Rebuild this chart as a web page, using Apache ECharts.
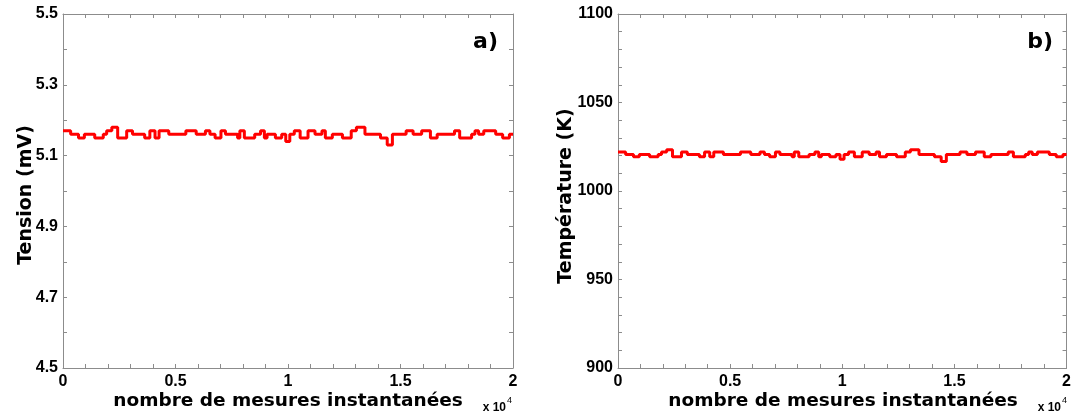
<!DOCTYPE html>
<html>
<head>
<meta charset="utf-8">
<script src="https://cdn.jsdelivr.net/npm/echarts@6/dist/echarts.min.js"></script>
<style>
html,body{margin:0;padding:0;background:#fff;}
#chart{width:1074px;height:416px;}
</style>
</head>
<body>
<div id="chart"></div>
<script>
// Step change positions (sample index) shared by both signals
const stepX = [0, 340, 690, 950, 1410, 1790, 1940, 2170, 2430, 2830, 3090, 3630, 3860, 4090, 4270, 4700, 5460, 5920, 6330, 6530, 6760, 7020, 7220, 7760, 7860, 8060, 8520, 8780, 8950, 9070, 9440, 9720, 9900, 10080, 10280, 10540, 10890, 11200, 11510, 11660, 11970, 12420, 12810, 13040, 13420, 14110, 14410, 14640, 15250, 15560, 15940, 16330, 16630, 17400, 17630, 18160, 18310, 18470, 18700, 19230, 19540, 19840, 20000];
// Voltage (mV) levels, panel a)
const voltage = [5.17, 5.16, 5.15, 5.16, 5.15, 5.16, 5.17, 5.18, 5.15, 5.17, 5.16, 5.15, 5.17, 5.15, 5.17, 5.16, 5.17, 5.16, 5.17, 5.16, 5.15, 5.17, 5.16, 5.15, 5.17, 5.15, 5.16, 5.17, 5.15, 5.16, 5.15, 5.16, 5.14, 5.16, 5.17, 5.15, 5.17, 5.16, 5.17, 5.15, 5.16, 5.15, 5.17, 5.18, 5.16, 5.15, 5.13, 5.16, 5.17, 5.16, 5.17, 5.15, 5.16, 5.17, 5.15, 5.16, 5.17, 5.16, 5.17, 5.16, 5.15, 5.16, 5.16];
// Temperature (K) levels, panel b)
const temperature = [1022, 1020.6, 1019.3, 1020.6, 1019.3, 1020.6, 1022, 1023.3, 1019.3, 1022, 1020.6, 1019.3, 1022, 1019.3, 1022, 1020.6, 1022, 1020.6, 1022, 1020.6, 1019.3, 1022, 1020.6, 1019.3, 1022, 1019.3, 1020.6, 1022, 1019.3, 1020.6, 1019.3, 1020.6, 1018, 1020.6, 1022, 1019.3, 1022, 1020.6, 1022, 1019.3, 1020.6, 1019.3, 1022, 1023.3, 1020.6, 1019.3, 1016.7, 1020.6, 1022, 1020.6, 1022, 1019.3, 1020.6, 1022, 1019.3, 1020.6, 1022, 1020.6, 1022, 1020.6, 1019.3, 1020.6, 1020.6];
// Axis settings / tick labels
const xMin = 0, xMax = 20000, xTickStep = 1000, xLabelStep = 5000;
const vMin = 4.5, vMax = 5.5, vTickStep = 0.1;
const tMin = 900, tMax = 1100, tTickStep = 10, tLabelStep = 50;
const xLabel = 'nombre de mesures instantanées';
const vLabel = 'Tension (mV)';
const tLabel = 'Température (K)';

const axisColor = '#8c8c8c';
const tickFont = {color:'#000', fontFamily:'Liberation Sans', fontWeight:'bold', fontSize:16};

function xAxes(gridIndex){
  const base = {type:'value', gridIndex, min:xMin, max:xMax, interval:xTickStep,
    axisLine:{show:true, onZero:false, lineStyle:{color:axisColor, width:1}},
    axisTick:{show:true, inside:true, length:4, lineStyle:{color:axisColor}},
    splitLine:{show:false}};
  return [
    Object.assign({}, base, {position:'bottom',
      axisLabel:Object.assign({show:true, margin:6, showMinLabel:true, showMaxLabel:true,
        formatter:v => (Math.round(v) % xLabelStep === 0) ? String(v/10000) : ''}, tickFont)}),
    Object.assign({}, base, {position:'top', axisLabel:{show:false}})
  ];
}
function yAxes(gridIndex, min, max, step, fmt){
  const base = {type:'value', gridIndex, min, max, interval:step,
    axisLine:{show:true, onZero:false, lineStyle:{color:axisColor, width:1}},
    axisTick:{show:true, inside:true, length:4, lineStyle:{color:axisColor}},
    splitLine:{show:false}};
  return [
    Object.assign({}, base, {position:'left',
      axisLabel:Object.assign({show:true, margin:5, showMinLabel:true, showMaxLabel:true, formatter:fmt}, tickFont)}),
    Object.assign({}, base, {position:'right', axisLabel:{show:false}})
  ];
}

const chart = echarts.init(document.getElementById('chart'), null, {renderer:'canvas'});
const titleFont = {fontFamily:'DejaVu Sans', fontWeight:'bold', fill:'#000'};
const expRich = {a:{fontFamily:'Liberation Sans', fontSize:12, fontWeight:'bold', fill:'#000', verticalAlign:'bottom'},
                 b:{fontFamily:'Liberation Sans', fontSize:9, fill:'#000', verticalAlign:'top', padding:[0,0,9,1]}};

chart.setOption({
  animation:false,
  backgroundColor:'#fff',
  grid:[
    {left:63, top:14, width:450, height:354},
    {left:618, top:14, width:450, height:354}
  ],
  xAxis:[...xAxes(0), ...xAxes(1)],
  yAxis:[
    ...yAxes(0, vMin, vMax, vTickStep, v => (Math.round(v*10) % 2 === 1) ? v.toFixed(1) : ''),
    ...yAxes(1, tMin, tMax, tTickStep, v => (Math.round(v) % tLabelStep === 0) ? String(v) : '')
  ],
  series:[
    {type:'line', xAxisIndex:0, yAxisIndex:0, step:'end', showSymbol:false,
      lineStyle:{color:'#ff0000', width:3}, data:stepX.map((x,i)=>[x, voltage[i]])},
    {type:'line', xAxisIndex:2, yAxisIndex:2, step:'end', showSymbol:false,
      lineStyle:{color:'#ff0000', width:3}, data:stepX.map((x,i)=>[x, temperature[i]])}
  ],
  graphic:[
    {type:'text', x:288, y:401, style:Object.assign({text:xLabel, fontSize:18.5, textAlign:'center', textVerticalAlign:'middle'}, titleFont)},
    {type:'text', x:843, y:401, style:Object.assign({text:xLabel, fontSize:18.5, textAlign:'center', textVerticalAlign:'middle'}, titleFont)},
    {type:'text', x:26, y:195, rotation:Math.PI/2, style:Object.assign({text:vLabel, fontSize:19, textAlign:'center', textVerticalAlign:'middle'}, titleFont)},
    {type:'text', x:566, y:196, rotation:Math.PI/2, style:Object.assign({text:tLabel, fontSize:19, textAlign:'center', textVerticalAlign:'middle'}, titleFont)},
    {type:'text', x:498, y:42, style:Object.assign({text:'a)', fontSize:22, textAlign:'right', textVerticalAlign:'middle'}, titleFont)},
    {type:'text', x:1053, y:42, style:Object.assign({text:'b)', fontSize:22, textAlign:'right', textVerticalAlign:'middle'}, titleFont)},
    {type:'text', x:512, y:405, style:{text:'{a|x 10}{b|4}', textAlign:'right', textVerticalAlign:'middle', rich:expRich}},
    {type:'text', x:1067, y:405, style:{text:'{a|x 10}{b|4}', textAlign:'right', textVerticalAlign:'middle', rich:expRich}}
  ]
});
</script>
</body>
</html>
